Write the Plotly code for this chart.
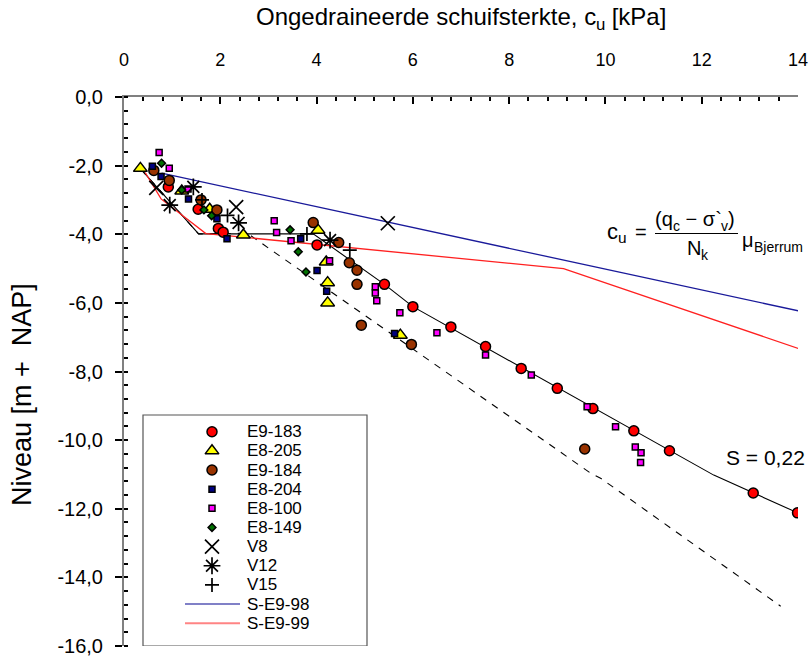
import plotly.graph_objects as go

# ---------------- data: cu [kPa] vs level [m + NAP] ----------------
e9_183_x = [0.92, 1.54, 1.96, 2.06, 4.01, 5.41, 6.00, 6.79, 7.51, 8.25, 9.00, 9.74, 10.59, 11.33, 13.07, 13.99]
e9_183_y = [-2.62, -3.27, -3.83, -3.94, -4.31, -5.46, -6.11, -6.70, -7.27, -7.91, -8.49, -9.08, -9.73, -10.31, -11.54, -12.12]

e8_205_x = [0.34, 1.20, 1.78, 2.48, 4.03, 4.20, 4.23, 4.23, 5.74]
e8_205_y = [-2.08, -2.74, -3.27, -4.02, -3.88, -4.81, -5.41, -6.00, -6.94]

e9_184_x = [0.62, 0.94, 1.60, 1.93, 3.93, 4.46, 4.68, 4.84, 4.84, 4.93, 5.97, 9.57]
e9_184_y = [-2.14, -2.43, -3.00, -3.29, -3.66, -4.24, -4.83, -5.05, -5.46, -6.65, -7.21, -10.26]

e8_204_x = [0.59, 0.77, 1.34, 1.93, 2.14, 3.67, 4.01, 4.21, 5.62]
e8_204_y = [-2.02, -2.32, -2.97, -3.55, -4.13, -4.13, -5.06, -5.66, -6.89]

e8_100_x = [0.73, 0.94, 1.33, 3.12, 3.17, 3.47, 4.27, 5.22, 5.22, 5.25, 5.73, 6.50, 7.51, 8.46,
            9.62, 10.21, 10.62, 10.74, 10.73]
e8_100_y = [-1.62, -2.08, -2.68, -3.61, -3.95, -4.19, -4.77, -5.53, -5.71, -5.94, -6.29, -6.87, -7.52, -8.10,
            -9.03, -9.61, -10.20, -10.37, -10.65]

e8_149_x = [0.78, 1.20, 1.66, 1.82, 3.45, 3.62, 3.78]
e8_149_y = [-1.93, -2.71, -3.29, -3.46, -3.87, -4.51, -5.10]

v8_x = [0.67, 2.33, 5.48]
v8_y = [-2.65, -3.21, -3.68]

v12_x = [0.95, 1.44, 2.38, 4.28]
v12_y = [-3.15, -2.62, -3.67, -4.17]

v15_x = [1.62, 2.15, 3.80, 4.69]
v15_y = [-3.00, -3.45, -3.99, -4.46]

s_e9_98_x = [0.78, 14.2]
s_e9_98_y = [-2.22, -6.29]

s_e9_99_x = [0.44, 0.77, 1.70, 9.13, 14.2]
s_e9_99_y = [-2.20, -2.97, -3.98, -5.00, -7.42]

# cu = S * sigma'v profile, S = 0,22
s022_x = [0.35, 1.55, 3.93, 5.41, 6.00, 12.25, 14.2]
s022_y = [-2.10, -3.99, -3.99, -5.46, -6.11, -11.02, -12.25]

# lower bound profile (dashed)
lower_x = [0.35, 1.55, 2.56, 9.69, 9.90, 13.64]
lower_y = [-2.10, -3.99, -3.97, -10.96, -11.11, -14.84]

x_ticks = [0, 2, 4, 6, 8, 10, 12, 14]
y_ticks = [0, -2, -4, -6, -8, -10, -12, -14, -16]
y_ticktext = ["0,0", "-2,0", "-4,0", "-6,0", "-8,0", "-10,0", "-12,0", "-14,0", "-16,0"]

FONT = "Arial, Liberation Sans, sans-serif"

# plotting area in page pixels
PX_L, PX_R, PX_T, PX_B = 124, 798, 97, 646

# marker / line styles per series
series = [
    ("E9-183", e9_183_x, e9_183_y, dict(symbol="circle", size=10, color="#FF0000", line=dict(color="black", width=1.5))),
    ("E8-205", e8_205_x, e8_205_y, dict(symbol="triangle-up", size=12, color="#FFFF00", line=dict(color="black", width=1.5))),
    ("E9-184", e9_184_x, e9_184_y, dict(symbol="circle", size=10, color="#993300", line=dict(color="black", width=1.5))),
    ("E8-204", e8_204_x, e8_204_y, dict(symbol="square", size=6, color="#000080", line=dict(color="black", width=1.5))),
    ("E8-100", e8_100_x, e8_100_y, dict(symbol="square", size=6, color="#FF00FF", line=dict(color="black", width=1.5))),
    ("E8-149", e8_149_x, e8_149_y, dict(symbol="diamond", size=6, color="#007000", line=dict(color="black", width=1.5))),
    ("V8", v8_x, v8_y, dict(symbol="x-thin-open", size=14, color="black", line=dict(color="black", width=1.7))),
    ("V12", v12_x, v12_y, dict(symbol="asterisk-open", size=14, color="black", line=dict(color="black", width=1.7))),
    ("V15", v15_x, v15_y, dict(symbol="cross-thin-open", size=10, color="black", line=dict(color="black", width=1.7))),
]
line_series = [
    ("S-E9-98", s_e9_98_x, s_e9_98_y, dict(color="#1A1A9A", width=1.3)),
    ("S-E9-99", s_e9_99_x, s_e9_99_y, dict(color="#FF2020", width=1.3)),
]

fig = go.Figure()

# profile lines (drawn beneath the markers)
fig.add_trace(go.Scatter(x=lower_x, y=lower_y, mode="lines", showlegend=False,
                         line=dict(color="black", width=1.1, dash="7px,7px")))
fig.add_trace(go.Scatter(x=s022_x, y=s022_y, mode="lines", showlegend=False,
                         line=dict(color="black", width=1.1)))
for name, xs, ys, ln in line_series:
    fig.add_trace(go.Scatter(x=xs, y=ys, mode="lines", name=name, showlegend=False, line=ln))
for name, xs, ys, mk in series:
    fig.add_trace(go.Scatter(x=xs, y=ys, mode="markers", name=name, showlegend=False, marker=mk))

# ---------------- legend box (pixel-unit overlay axes) ----------------
LEG_X0, LEG_X1, LEG_Y0, LEG_Y1 = 143, 367, 415, 646
row0, row_step = 431.7, 19.15
key_x, text_x = 212, 246
names = [s[0] for s in series] + [s[0] for s in line_series]
for i, (name, xs, ys, mk) in enumerate(series):
    fig.add_trace(go.Scatter(x=[key_x], y=[row0 + i * row_step], mode="markers", marker=mk,
                             xaxis="x2", yaxis="y2", showlegend=False, hoverinfo="skip"))
for j, (name, xs, ys, ln) in enumerate(line_series):
    ry = row0 + (len(series) + j) * row_step
    fig.add_trace(go.Scatter(x=[185, 240], y=[ry, ry], mode="lines", line=dict(color=ln["color"], width=2),
                             opacity=0.55, xaxis="x2", yaxis="y2", showlegend=False, hoverinfo="skip"))
for i, name in enumerate(names):
    fig.add_annotation(x=text_x, y=row0 + i * row_step, xref="x2", yref="y2", text=name,
                       showarrow=False, xanchor="left", yanchor="middle", borderpad=0,
                       font=dict(family=FONT, size=17, color="black"))
fig.add_shape(type="rect", xref="x2", yref="y2", x0=LEG_X0, x1=LEG_X1, y0=LEG_Y0, y1=LEG_Y1,
              line=dict(color="#555555", width=1.2), fillcolor="white", layer="below")

# ---------------- text with subscripts, laid out piece by piece ----------------
# advance widths (1/1000 em) of the sans-serif face used for the labels
ADV = {"O": 778, "n": 556, "g": 556, "e": 556, "d": 556, "r": 333, "a": 556, "i": 222, " ": 278,
       "s": 500, "c": 500, "h": 556, "u": 556, "f": 278, "t": 278, "k": 500, ",": 278, "[": 278,
       "P": 667, "]": 278, "q": 556, "−": 584, "(": 333, ")": 333, "N": 722, "B": 667, "j": 222,
       "m": 833, "v": 500, "σ": 572, "`": 333, "μ": 577, "=": 584}


def adv(text, size):
    return sum(ADV.get(ch, 556) for ch in text) * size / 1000.0


def rich(x_left, baseline, pieces, size, paper=False):
    """pieces: list of (text, is_subscript); draws each piece as its own text item."""
    x = x_left
    for text, sub in pieces:
        fs = round(size * 0.7, 1) if sub else size
        base = baseline + (0.3 * fs if sub else 0.0)
        mid = base - 0.3465 * fs
        if paper:
            xr, yr = "paper", "paper"
            xv, yv = (x - PX_L) / (PX_R - PX_L), (PX_B - mid) / (PX_B - PX_T)
        else:
            xr, yr, xv, yv = "x2", "y2", x, mid
        fig.add_annotation(x=xv, y=yv, xref=xr, yref=yr, text=text, showarrow=False,
                           xanchor="left", yanchor="middle", borderpad=0, borderwidth=0,
                           font=dict(family=FONT, size=fs, color="black"))
        x += adv(text, fs)


# cu = (qc - sigma'v) / Nk * mu_Bjerrum
rich(607, 238.7, [("c", False), ("u", True)], 22)
rich(635, 238.9, [("=", False)], 20)
rich(655, 226.2, [("(q", False), ("c", True), (" − σ`", False), ("v", True), (")", False)], 20)
fig.add_shape(type="line", xref="x2", yref="y2", x0=655, x1=738, y0=233.5, y1=233.5,
              line=dict(color="black", width=1.2))
rich(687, 255.2, [("N", False), ("k", True)], 20)
rich(742, 247.4, [("μ", False), ("Bjerrum", True)], 20)

fig.add_annotation(x=765, y=457, xref="x2", yref="y2", text="S = 0,22", showarrow=False,
                   xanchor="center", yanchor="middle", font=dict(family=FONT, size=21, color="black"))

# axis titles (outside the plotting area)
title_pieces = [("Ongedraineerde schuifsterkte, c", False), ("u", True), (" [kPa]", False)]
title_w = sum(adv(t, 24 * (0.7 if s else 1)) for t, s in title_pieces)
rich((PX_L + PX_R) / 2 - title_w / 2, 25.3, title_pieces, 24, paper=True)

fig.add_annotation(x=(22 - PX_L) / (PX_R - PX_L), y=(PX_B - 395) / (PX_B - PX_T), xref="paper", yref="paper",
                   showarrow=False, textangle=-90, text="Niveau [m +  NAP]",
                   font=dict(family=FONT, size=27, color="black"), xanchor="center", yanchor="middle")

fig.update_layout(
    width=812, height=657,
    margin=dict(l=PX_L, r=812 - PX_R, t=PX_T, b=657 - PX_B, autoexpand=False),
    paper_bgcolor="white", plot_bgcolor="white",
    font=dict(family=FONT, color="black"),
    showlegend=False,
    xaxis=dict(side="top", range=[0, 14], tickvals=x_ticks, ticks="inside", ticklen=7,
               tickcolor="black", tickwidth=1.5, showline=True, linecolor="#808080", linewidth=2,
               showgrid=False, zeroline=False, tickfont=dict(family=FONT, size=18),
               ticklabelstandoff=22, automargin=False,
               minor=dict(dtick=0.4, tick0=0, ticks="inside", ticklen=4, tickcolor="black", showgrid=False)),
    yaxis=dict(range=[-16, 0], tickvals=y_ticks, ticktext=y_ticktext, ticks="outside", ticklen=7,
               tickcolor="black", tickwidth=1.5, showline=True, linecolor="#808080", linewidth=2,
               showgrid=False, zeroline=False, tickfont=dict(family=FONT, size=20),
               ticklabelstandoff=8, automargin=False,
               minor=dict(dtick=0.4, tick0=0, ticks="inside", ticklen=4, tickcolor="black", showgrid=False)),
    xaxis2=dict(overlaying="x", range=[PX_L, PX_R], visible=False, anchor="y2", automargin=False),
    yaxis2=dict(overlaying="y", range=[PX_B, PX_T], visible=False, anchor="x2", automargin=False),
)

fig.write_html("out.html")
